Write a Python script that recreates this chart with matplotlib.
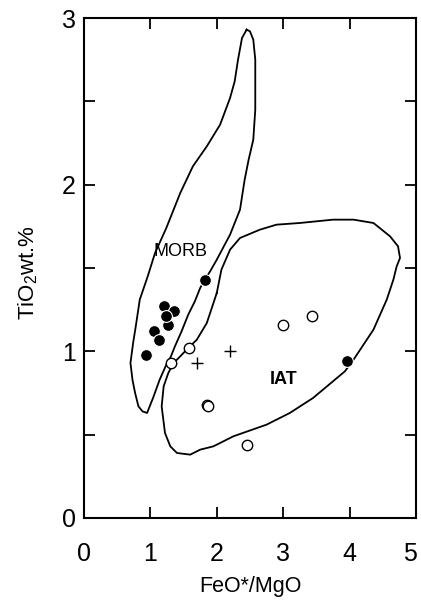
import matplotlib
matplotlib.use("Agg")
import matplotlib.pyplot as plt
import matplotlib.transforms as mtransforms
import numpy as np

plt.rcParams['font.family'] = ['Liberation Sans', 'DejaVu Sans']
plt.rcParams['mathtext.default'] = 'regular'

# field outlines (FeO*/MgO, TiO2)
morb_x = [2.45, 2.38, 2.32, 2.27, 2.20, 2.05, 1.85, 1.64, 1.45, 1.33, 1.24, 1.07, 0.96,
          0.84, 0.78, 0.74, 0.70, 0.73, 0.77, 0.82, 0.88, 0.95,
          1.04, 1.14, 1.24, 1.31, 1.37, 1.47, 1.57, 1.67, 1.75, 1.82, 1.90, 2.00, 2.12,
          2.20, 2.35, 2.42, 2.48, 2.55, 2.58, 2.58, 2.58, 2.55, 2.50, 2.45]
morb_y = [2.93, 2.88, 2.75, 2.62, 2.52, 2.36, 2.23, 2.11, 1.95, 1.83, 1.74, 1.59, 1.45,
          1.31, 1.15, 1.05, 0.93, 0.83, 0.75, 0.67, 0.64, 0.63,
          0.72, 0.83, 0.92, 0.97, 1.03, 1.12, 1.22, 1.30, 1.38, 1.43, 1.48, 1.55, 1.64,
          1.70, 1.85, 2.03, 2.15, 2.27, 2.45, 2.62, 2.75, 2.87, 2.92, 2.93]

iat_x = [2.00, 1.85, 1.70, 1.57, 1.45, 1.35, 1.27, 1.20, 1.17, 1.22, 1.30, 1.40, 1.60,
         1.75, 1.95, 2.25, 2.75, 3.10, 3.45, 3.93, 4.06, 4.36, 4.56, 4.66, 4.71, 4.76,
         4.73, 4.61, 4.36, 4.06, 3.75, 3.25, 2.90, 2.65, 2.35, 2.20, 2.07, 2.00]
iat_y = [1.35, 1.17, 1.07, 1.02, 0.97, 0.93, 0.87, 0.79, 0.67, 0.51, 0.43, 0.39, 0.38,
         0.41, 0.43, 0.49, 0.56, 0.63, 0.72, 0.88, 0.95, 1.13, 1.31, 1.43, 1.51, 1.56,
         1.63, 1.69, 1.77, 1.79, 1.79, 1.77, 1.76, 1.73, 1.68, 1.61, 1.49, 1.35]

# samples
filled_x = [0.93, 1.06, 1.13, 1.21, 1.35, 1.27, 1.24, 1.82, 3.96]
filled_y = [0.98, 1.12, 1.07, 1.27, 1.24, 1.16, 1.21, 1.43, 0.94]
open_x = [1.31, 1.58, 1.85, 1.87, 2.46, 2.99, 3.44]
open_y = [0.93, 1.02, 0.68, 0.67, 0.44, 1.16, 1.21]
plus_x = [1.70, 2.20]
plus_y = [0.93, 1.00]

x_ticks = [0, 1, 2, 3, 4, 5]
y_ticks = [0, 0.5, 1, 1.5, 2, 2.5, 3]
y_labels = ['0', '', '1', '', '2', '', '3']

fig = plt.figure(figsize=(4.21, 6.0), dpi=100)
ax = fig.add_axes([0.1995, 0.1367, 0.7885, 0.8333])

ax.plot(morb_x, morb_y, color='black', lw=1.3, zorder=2)
ax.plot(iat_x, iat_y, color='black', lw=1.3, zorder=2)

ax.plot(filled_x, filled_y, 'o', ms=8.5, mfc='black', mec='white', mew=0.8, zorder=3)
ax.plot(open_x, open_y, 'o', ms=7.5, mfc='white', mec='black', mew=1.0, zorder=3)
ax.plot(plus_x, plus_y, '+', ms=9, color='black', mew=1.0, zorder=3)

ax.text(1.46, 1.60, 'MORB', fontsize=13, ha='center', va='center')
ax.text(3.0, 0.83, 'IAT', fontsize=13, fontweight='bold', ha='center', va='center')

ax.set_xlim(0, 5)
ax.set_ylim(0, 3)
ax.set_xticks(x_ticks)
ax.set_yticks(y_ticks)
ax.set_yticklabels(y_labels)
ax.tick_params(axis='both', direction='in', length=8, width=1.3, labelsize=18)
ax.tick_params(axis='x', top=True, pad=17)
ax.tick_params(axis='y', right=True, pad=6)
for s in ax.spines.values():
    s.set_linewidth(1.5)

# last x label sits on the figure edge, nudge it inside
last = ax.xaxis.get_major_ticks()[-1].label1
last.set_transform(last.get_transform() +
                   mtransforms.ScaledTranslation(-6 / 100, 0, fig.dpi_scale_trans))

ax.set_xlabel('FeO*/MgO', fontsize=15.5, va='baseline')
ax.set_ylabel('TiO$_2$wt.%', fontsize=16)
ax.xaxis.set_label_coords(0.5, -0.148)
ax.yaxis.set_label_coords(-0.133, 0.49)

fig.savefig('out.png', dpi=100)
